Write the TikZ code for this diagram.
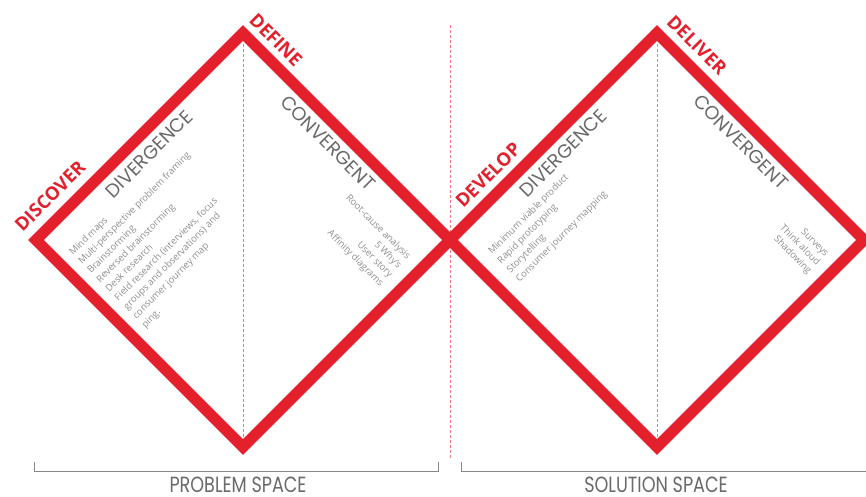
\documentclass[tikz,border=0pt]{standalone}
\usepackage{fontspec}
\setmainfont{Open Sans}
\newfontfamily\geofont{Poppins}
\usetikzlibrary{positioning}
\definecolor{ddred}{HTML}{E3202C}
\definecolor{ddgray}{HTML}{6A6A6A}
\definecolor{ddlight}{HTML}{8E8E8E}

\begin{document}
\begin{tikzpicture}[x=1pt,y=-1pt,every node/.style={inner sep=0pt},
    ddline/.style={ddred,line width=11pt},
    midline/.style={ddred!60,line width=0.6pt,dash pattern=on 3pt off 2pt},
    stage/.style={ddred,font=\bfseries\fontsize{18.5}{18.5}\selectfont},
    phase/.style={ddgray,font=\geofont\fontsize{19}{19}\selectfont},
    tool/.style={ddlight,font=\fontsize{9.5}{9.5}\selectfont},
    spacebar/.style={ddgray!80,line width=0.9pt},
    spacename/.style={ddgray,font=\geofont\fontsize{22}{22}\selectfont,
      xscale=0.8,anchor=base,text depth=0pt}]
  \useasboundingbox(0,0)rectangle(866,497);
  \coordinate(L)at(36,240);\coordinate(T1)at(243,33);\coordinate(B1)at(243,447);
  \coordinate(X)at(450,240);
  \coordinate(T2)at(657,33);\coordinate(B2)at(657,447);\coordinate(R)at(864,240);
  \draw[midline](243,44)--(243,438)(450,25)--(450,458)(657,44)--(657,438);
  \draw[ddline](L)--(T1)--(X)--(B1)--cycle;
  \draw[ddline](X)--(T2)--(R)--(B2)--cycle;
  \node[stage,rotate=45](discover)at(50,196){DISCOVER};
  \node[stage,rotate=-45](define)at(276,40){DEFINE};
  \node[stage,rotate=45](develop)at(488,175){DEVELOP};
  \node[stage,rotate=-45](deliver)at(697,45){DELIVER};
  \node[phase,rotate=45](div1)at(149,154){DIVERGENCE};
  \node[phase,rotate=-45](conv1)at(328,143){CONVERGENT};
  \node[phase,rotate=45](div2)at(563,153){DIVERGENCE};
  \node[phase,rotate=-45](conv2)at(741,142){CONVERGENT};
  \begin{scope}[shift={(73,256)},rotate=45,transform shape]
    \foreach \t [count=\i from 0] in {Mind maps,Multi-perspective problem framing,
      Brainstorming,Reversed brainstorming,Desk research,
      {Field research (interviews, focus},groups and observations) and,
      consumer journey map,ping.}
      \node[tool,anchor=base west](tools1-\i)at(0,\i*12.8){\t};
  \end{scope}
  \begin{scope}[shift={(407,260)},rotate=-45,transform shape]
    \foreach \t [count=\i from 0] in {Root-cause analysis,5 Why's,User story,Affinity diagrams}
      \node[tool,anchor=base east](tools2-\i)at(0,\i*12.7){\t};
  \end{scope}
  \begin{scope}[shift={(492,255)},rotate=45,transform shape]
    \foreach \t [count=\i from 0] in {Minimum viable product,Rapid prototyping,
      Storytelling,Consumer journey mapping}
      \node[tool,anchor=base west](tools3-\i)at(0,\i*13){\t};
  \end{scope}
  \begin{scope}[shift={(825,257)},rotate=-45,transform shape]
    \foreach \t [count=\i from 0] in {Surveys,Think aloud,Shadowing}
      \node[tool,anchor=base east](tools4-\i)at(0,\i*12){\t};
  \end{scope}
  \draw[spacebar](34,462)|-(438,471)--(438,462);
  \draw[spacebar](461,462)|-(866,471);
  \node[spacename](problem)at(238,492){PROBLEM SPACE};
  \node[spacename](solution)at(656,492){SOLUTION SPACE};
\end{tikzpicture}
\end{document}
